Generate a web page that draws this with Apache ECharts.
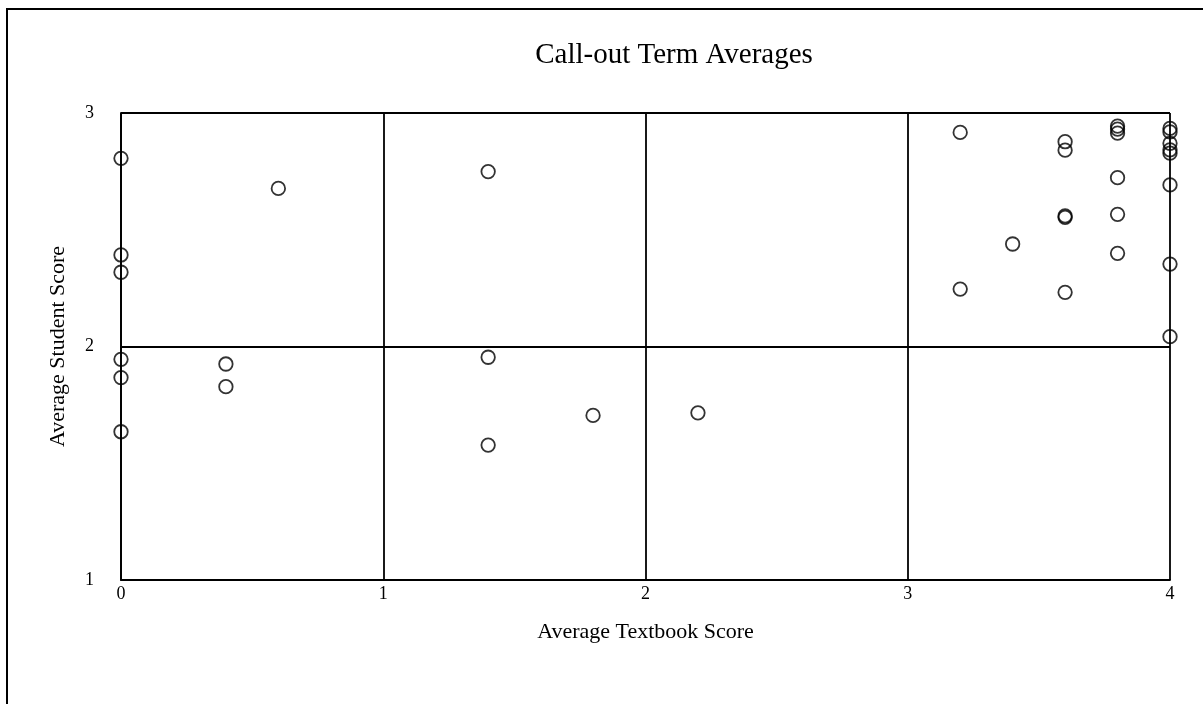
<!DOCTYPE html>
<html>
<head>
<meta charset="utf-8">
<script src="https://cdn.jsdelivr.net/npm/echarts@6/dist/echarts.min.js"></script>
<style>
html, body { margin: 0; padding: 0; background: #fff; }
#chart { width: 1203px; height: 704px; }
</style>
</head>
<body>
<div id="chart"></div>
<script>
// 数据
const textbookScores = [
	0, 0, 0, 0, 0, 0,
	0.4, 0.4, 0.6,
	1.4, 1.4, 1.4, 1.8, 2.2,
	3.2, 3.2, 3.4,
	3.6, 3.6, 3.6, 3.6, 3.6,
	3.8, 3.8, 3.8, 3.8, 3.8, 3.8,
	4, 4, 4, 4, 4, 4, 4, 4
];
const studentScores = [
	2.806, 2.392, 2.318, 1.945, 1.867, 1.635,
	1.925, 1.828, 2.677,
	2.749, 1.954, 1.578, 1.705, 1.716,
	2.917, 2.246, 2.439,
	2.877, 2.841, 2.559, 2.553, 2.232,
	2.944, 2.931, 2.914, 2.723, 2.566, 2.399,
	2.934, 2.919, 2.870, 2.842, 2.828, 2.692, 2.353, 2.042
];
const xTicks = [0, 1, 2, 3, 4];
const yTicks = [1, 2, 3];

const points = textbookScores.map((x, i) => [x, studentScores[i]]);
const font = 'Liberation Serif';

let myEcharts = echarts.init(document.getElementById('chart'));
let option = {
	backgroundColor: '#fff',
	animation: false,
	title: {
		text: 'Call-out Term Averages',
		left: 669,
		top: 36,
		textAlign: 'center',
		textStyle: { fontFamily: font, fontSize: 29, fontWeight: 'normal', color: '#000' },
	},
	grid: { left: 121, right: 33, top: 113, bottom: 124 },
	xAxis: {
		type: 'value',
		min: xTicks[0],
		max: xTicks[xTicks.length - 1],
		interval: 1,
		name: 'Average Textbook Score',
		nameLocation: 'middle',
		nameGap: 41,
		nameTextStyle: { fontFamily: font, fontSize: 22, color: '#000' },
		axisLine: { lineStyle: { color: '#000', width: 1.8 } },
		axisTick: { show: false },
		axisLabel: { fontFamily: font, fontSize: 18, color: '#000', margin: 5 },
		splitLine: { lineStyle: { color: '#000', width: 1.8 } },
	},
	yAxis: {
		type: 'value',
		min: yTicks[0],
		max: yTicks[yTicks.length - 1],
		interval: 1,
		name: 'Average Student Score',
		nameLocation: 'middle',
		nameGap: 52,
		nameTextStyle: { fontFamily: font, fontSize: 22, color: '#000' },
		axisLine: { show: true, lineStyle: { color: '#000', width: 1.8 } },
		axisTick: { show: false },
		axisLabel: { fontFamily: font, fontSize: 18, color: '#000', margin: 27 },
		splitLine: { lineStyle: { color: '#000', width: 1.8 } },
	},
	series: [
		{
			type: 'scatter',
			data: points,
			symbol: 'circle',
			symbolSize: 13.5,
			itemStyle: { color: 'rgba(0,0,0,0)', borderColor: '#000', borderWidth: 1.8 },
		},
	],
	graphic: [
		{
			type: 'polyline',
			shape: { points: [[7, 704], [7, 9], [1203, 9]] },
			style: { stroke: '#000', lineWidth: 2, fill: null },
		},
	],
};
myEcharts.setOption(option);
</script>
</body>
</html>
